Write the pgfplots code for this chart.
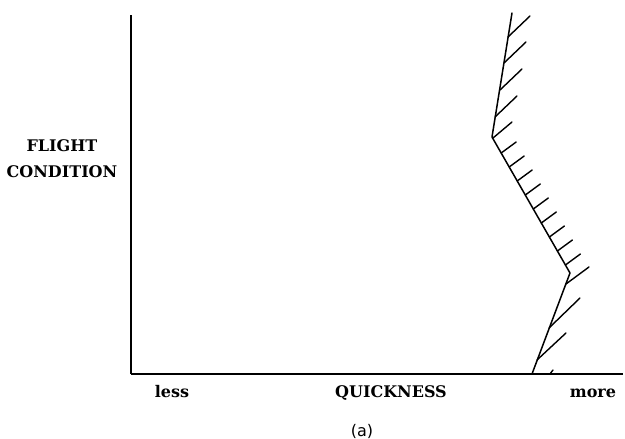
\documentclass[border=0pt]{standalone}
\usepackage{fontspec}
\setmainfont{DejaVu Serif}
\newfontfamily\sansa{DejaVu Sans}
\usepackage{pgfplots}
\pgfplotsset{compat=1.18}
\begin{document}
\begin{tikzpicture}[x=1pt,y=1pt]
\useasboundingbox (-131,-65) rectangle (494,374);
\begin{axis}[
  at={(0,0)}, anchor=south west,
  scale only axis, width=492pt, height=359pt,
  xmin=0, xmax=492, ymin=0, ymax=359,
  axis x line=bottom, axis y line=left,
  axis line style={-, line width=1.2pt},
  xtick=\empty, ytick=\empty,
  clip=false,
  unbounded coords=jump,
]
% boundary line
\addplot[black, line width=1.5pt, line join=round, line cap=round] coordinates {
  (381,361) (361,237) (439,101) (401,0)
};
% hatching
\addplot[black, line width=1.4pt, line cap=round] coordinates {
  (377,337) (399,358) (nan,nan)
  (373,311) (395,332) (nan,nan)
  (369,284) (391,305) (nan,nan)
  (364,257) (386,278) (nan,nan)
  (362,236) (381,252) (nan,nan)
  (370.2,221) (385.2,232) (nan,nan)
  (378.2,207) (393.2,218) (nan,nan)
  (386.2,193) (401.2,204) (nan,nan)
  (394.3,179) (409.3,190) (nan,nan)
  (402.3,165) (417.3,176) (nan,nan)
  (410.3,151) (425.3,162) (nan,nan)
  (418.4,137) (433.4,148) (nan,nan)
  (426.4,123) (441.4,134) (nan,nan)
  (434.4,109) (449.4,120) (nan,nan)
  (435,90) (458,107) (nan,nan)
  (418,46) (449,76) (nan,nan)
  (406,14) (435,41) (nan,nan)
  (419,0) (422,4)
};
\node[font=\fontsize{16}{18}\selectfont\bfseries, anchor=base] at (axis cs:41,-24) {less};
\node[font=\fontsize{16}{18}\selectfont\bfseries, anchor=base] at (axis cs:260,-24) {QUICKNESS};
\node[font=\fontsize{16}{18}\selectfont\bfseries, anchor=base] at (axis cs:462,-24) {more};
\node[font=\fontsize{16}{18}\selectfont\sansa] at (axis cs:231,-57) {(a)};
\node[font=\fontsize{16}{18}\selectfont\bfseries, anchor=base] at (axis cs:-69,222) {FLIGHT};
\node[font=\fontsize{16}{18}\selectfont\bfseries, anchor=base] at (axis cs:-69,196) {CONDITION};
\end{axis}
\end{tikzpicture}
\end{document}
